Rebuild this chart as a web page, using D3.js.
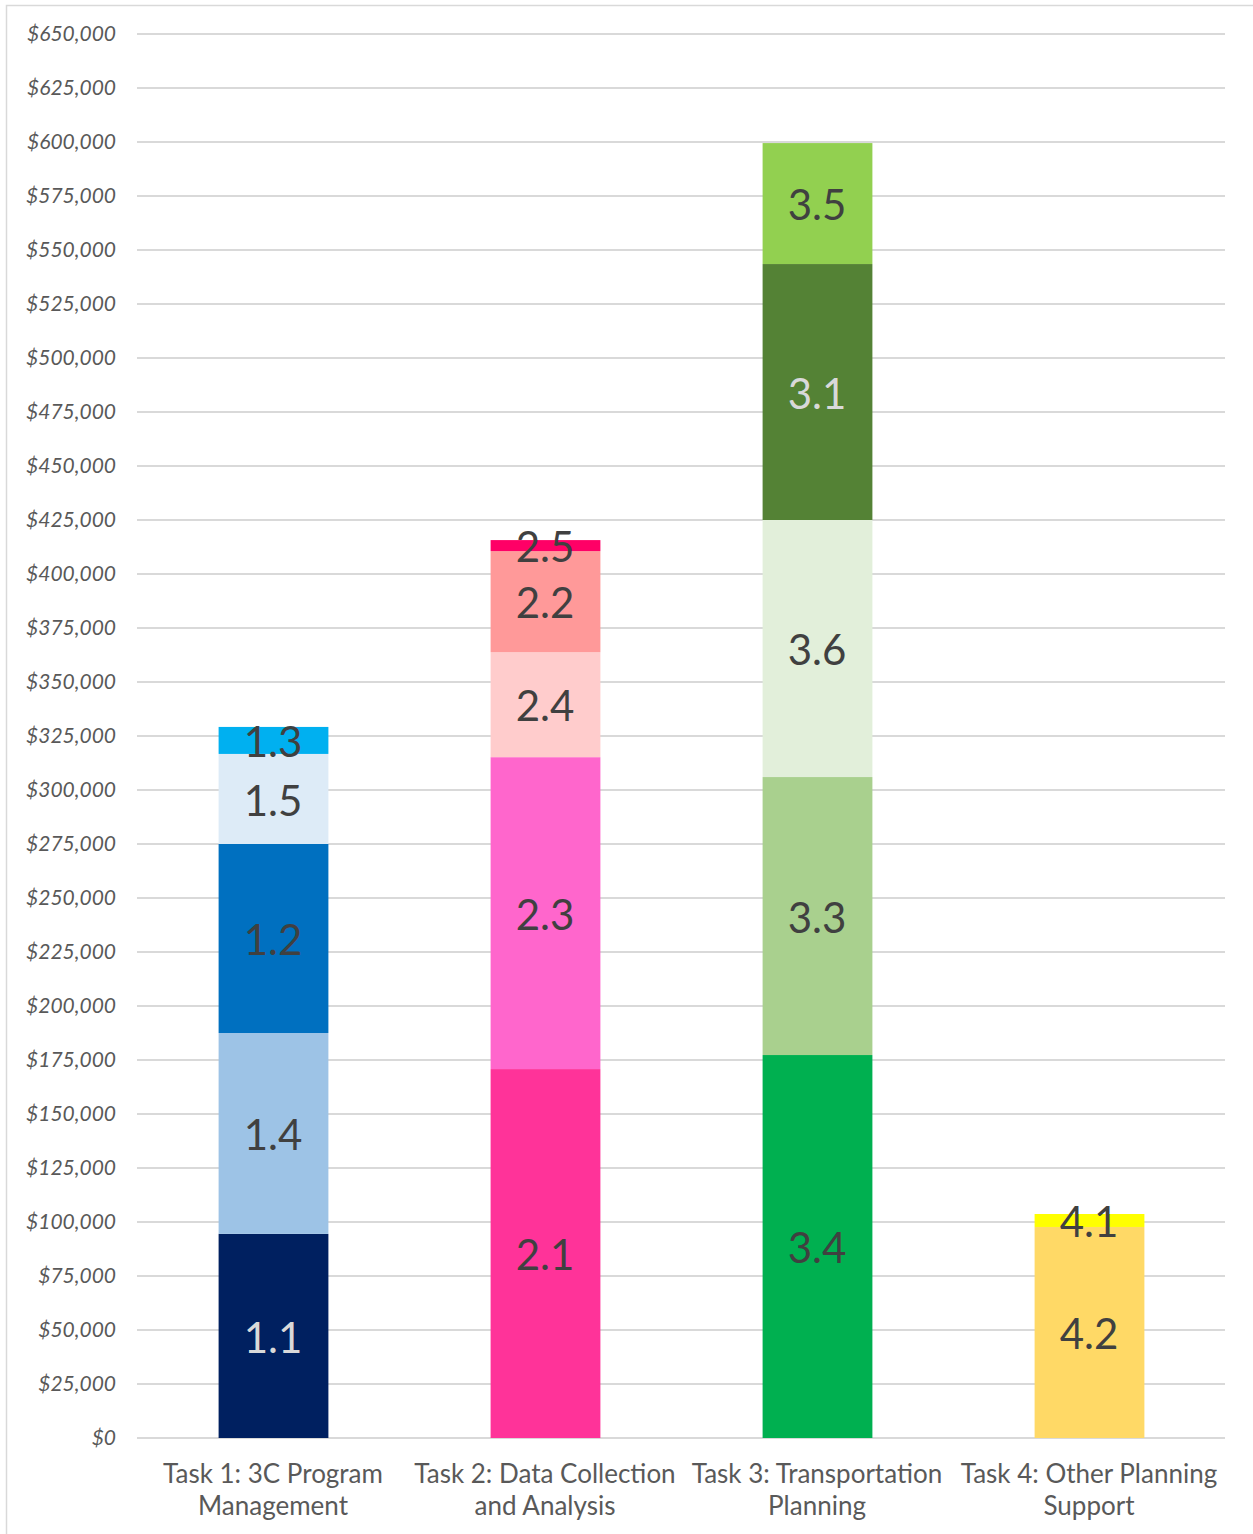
<!DOCTYPE html>
<html>
<head>
<meta charset="utf-8">
<script src="https://cdn.jsdelivr.net/npm/d3@7"></script>
<style>
  html, body { margin: 0; padding: 0; background: #fff; }
  svg { display: block; }
</style>
</head>
<body>
<div id="chart"></div>
<script>
// Stacked budget chart: one bar per task, segments are sub-tasks
// listed bottom to top.

const categories = [
    ['Task 1: 3C Program', 'Management'],
    ['Task 2: Data Collection', 'and Analysis'],
    ['Task 3: Transportation', 'Planning'],
    ['Task 4: Other Planning', 'Support'],
];

const task1 = [
    { label: '1.1', value: 94500, color: '#002060', text: '#d9d9d9' },
    { label: '1.4', value: 93000, color: '#9dc3e6', text: '#404040' },
    { label: '1.2', value: 87500, color: '#0070c0', text: '#404040' },
    { label: '1.5', value: 41700, color: '#ddebf7', text: '#404040' },
    { label: '1.3', value: 12500, color: '#00b0f0', text: '#404040' },
];
const task2 = [
    { label: '2.1', value: 170800, color: '#ff3399', text: '#404040' },
    { label: '2.3', value: 144400, color: '#ff66cc', text: '#404040' },
    { label: '2.4', value: 48600, color: '#ffcccc', text: '#404040' },
    { label: '2.2', value: 46800, color: '#ff9999', text: '#404040' },
    { label: '2.5', value: 5100, color: '#ff0066', text: '#404040' },
];
const task3 = [
    { label: '3.4', value: 177300, color: '#00b050', text: '#404040' },
    { label: '3.3', value: 128700, color: '#a9d08e', text: '#404040' },
    { label: '3.6', value: 119000, color: '#e2efda', text: '#404040' },
    { label: '3.1', value: 118500, color: '#548235', text: '#d9d9d9' },
    { label: '3.5', value: 56000, color: '#92d050', text: '#404040' },
];
const task4 = [
    { label: '4.2', value: 97700, color: '#ffd966', text: '#404040' },
    { label: '4.1', value: 6000, color: '#ffff00', text: '#404040' },
];

const segmentsByTask = [task1, task2, task3, task4];
const yTicks = d3.range(0, 650001, 25000);

const FONT = "'Lato', 'Open Sans', sans-serif";
const width = 1253, height = 1534;
const plot = { left: 137, right: 1225, top: 34, bottom: 1438 };

const svg = d3.select('#chart').append('svg')
    .attr('width', width)
    .attr('height', height);

// chart frame (only left and top edges show in the crop)
svg.append('path')
    .attr('d', `M6.5,${height} V5.5 H${width}`)
    .attr('fill', 'none')
    .attr('stroke', '#d9d9d9')
    .attr('stroke-width', 1.5);

const x = d3.scaleBand()
    .domain(categories.map((c, i) => i))
    .range([plot.left, plot.right])
    .paddingInner(0.6)
    .paddingOuter(0.3);

const y = d3.scaleLinear()
    .domain([0, 650000])
    .range([plot.bottom, plot.top]);

// gridlines
svg.append('g')
    .selectAll('line')
    .data(yTicks)
    .enter().append('line')
    .attr('x1', plot.left)
    .attr('x2', plot.right)
    .attr('y1', (d) => y(d))
    .attr('y2', (d) => y(d))
    .attr('stroke', '#d9d9d9')
    .attr('stroke-width', 2);

// y axis labels
const yAxis = d3.axisLeft(y)
    .tickValues(yTicks)
    .tickSize(0)
    .tickPadding(0)
    .tickFormat((d) => '$' + d3.format(',')(d));

svg.append('g')
    .attr('transform', 'translate(116,0)')
    .call(yAxis)
    .call((g) => g.select('.domain').remove())
    .selectAll('text')
    .attr('font-family', FONT)
    .attr('font-style', 'italic')
    .attr('font-size', 21)
    .attr('fill', '#595959');

// stacked bars
const bars = svg.append('g');
segmentsByTask.forEach((segs, i) => {
    let base = 0;
    const rows = segs.map((s) => {
        const r = { ...s, y0: base, y1: base + s.value };
        base += s.value;
        return r;
    });

    const g = bars.append('g');
    g.selectAll('rect')
        .data(rows)
        .enter().append('rect')
        .attr('x', x(i))
        .attr('width', x.bandwidth() + 1)
        .attr('y', (d) => y(d.y1))
        .attr('height', (d) => y(d.y0) - y(d.y1))
        .attr('fill', (d) => d.color);

    g.selectAll('text')
        .data(rows)
        .enter().append('text')
        .attr('x', x(i) + x.bandwidth() / 2)
        .attr('y', (d) => (y(d.y0) + y(d.y1)) / 2 + 2)
        .attr('dy', '0.35em')
        .attr('text-anchor', 'middle')
        .attr('font-family', FONT)
        .attr('font-size', 42)
        .attr('fill', (d) => d.text)
        .text((d) => d.label);
});

// category labels
const xg = svg.append('g');
categories.forEach((lines, i) => {
    const cx = x(i) + x.bandwidth() / 2;
    const t = xg.append('text')
        .attr('text-anchor', 'middle')
        .attr('font-family', FONT)
        .attr('font-size', 26)
        .attr('fill', '#595959');
    lines.forEach((line, k) => {
        t.append('tspan')
            .attr('x', cx)
            .attr('y', 1483 + k * 32)
            .text(line);
    });
});
</script>
</body>
</html>
